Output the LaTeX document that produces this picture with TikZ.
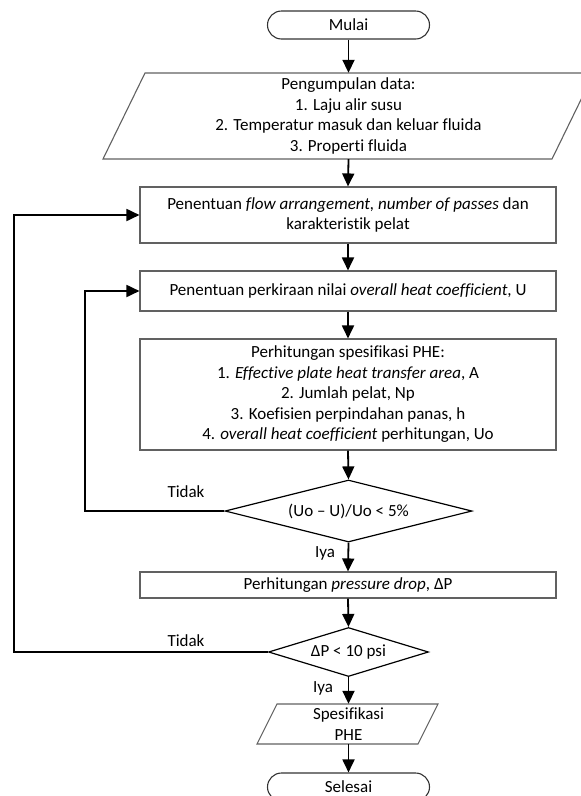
\documentclass[tikz,border=0pt]{standalone}
\usepackage{fontspec}
\setmainfont{Carlito}[Ligatures={NoCommon}]
\usetikzlibrary{arrows.meta,shapes.geometric,calc}
\begin{document}
\begin{tikzpicture}[x=1pt,y=-1pt,
  txt/.style={font=\fontsize{17}{20.5}\selectfont},
  box/.style={txt,draw=black!62,line width=1.1pt,rectangle,minimum width=416pt,inner sep=0pt,align=center},
  term/.style={txt,draw=black!80,line width=1.1pt,rectangle,rounded corners=14pt,minimum width=162pt,minimum height=28pt,inner sep=0pt},
  io/.style={txt,rectangle,inner sep=0pt,align=center},
  iobox/.style={draw=black!62,line width=1.1pt},
  dec/.style={txt,diamond,draw=black,line width=1.2pt,inner sep=0pt},
  conn/.style={draw=black,line width=1.8pt,-{Triangle[length=13pt,width=12pt]}},
  lbl/.style={txt,inner sep=0pt}
]
\useasboundingbox (0,0) rectangle (581,796);
\clip (0,0) rectangle (581,796);

% start
\node[term] (mulai) at (348.5,25) {Mulai};

% data input
\draw[iobox] (145,73) -- (594,73) -- (552,159) -- (103,159) -- cycle;
\node[io,minimum height=86pt] (data) at (348.5,116) {Pengumpulan data:\\1. Laju alir susu\\2. Temperatur masuk dan keluar fluida\\3. Properti fluida};

\node[box,minimum height=56pt] (boxA) at (348,215) {Penentuan \textit{flow arrangement, number of passes} dan\\karakteristik pelat};
\node[box,minimum height=40pt] (boxB) at (348,291) {Penentuan perkiraan nilai \textit{overall heat coefficient}, U};
\node[box,minimum height=111pt] (boxC) at (348,394.5) {Perhitungan spesifikasi PHE:\\1. \textit{Effective plate heat transfer area}, A\\2. Jumlah pelat, Np\\3. Koefisien perpindahan panas, h\\4. \textit{overall heat coefficient} perhitungan, Uo};

\node[dec,minimum width=247pt,minimum height=62pt,aspect=4] (dia1) at (348.5,511) {(Uo -- U)/Uo < 5\%};
\node[box,minimum height=26pt] (boxD) at (348,585) {Perhitungan \textit{pressure drop}, ΔP};
\node[dec,minimum width=160pt,minimum height=49pt,aspect=3.3] (dia2) at (348.5,652) {ΔP < 10 psi};

\draw[iobox] (277,704) -- (438,704) -- (418,744) -- (257,744) -- cycle;
\node[io,minimum height=40pt] (spec) at (348.5,724) {Spesifikasi\\PHE};

\node[term] (selesai) at (348.5,787) {Selesai};

% labels
\node[lbl] (tidak1) at (186,492) {Tidak};
\node[lbl] (tidak2) at (186,641) {Tidak};
\node[lbl] (iya1) at (325,553) {Iya};
\node[lbl] (iya2) at (323,688) {Iya};

% loop guides
\coordinate (l1) at (85,0);
\coordinate (l2) at (14,0);

% connectors
\draw[conn] (mulai.south) -- (data.north);
\draw[conn] (data.south) -- (boxA.north);
\draw[conn] (boxA.south) -- (boxB.north);
\draw[conn] (boxB.south) -- (boxC.north);
\draw[conn] (boxC.south) -- (dia1.north);
\draw[conn] (dia1.south) -- (boxD.north);
\draw[conn] (boxD.south) -- (dia2.north);
\draw[conn] (dia2.south) -- (spec.north);
\draw[conn] (spec.south) -- (selesai.north);
\draw[conn] (dia1.west) -- (dia1.west -| l1) |- (boxB.west);
\draw[conn] (dia2.west) -- (dia2.west -| l2) |- (boxA.west);
\end{tikzpicture}
\end{document}
